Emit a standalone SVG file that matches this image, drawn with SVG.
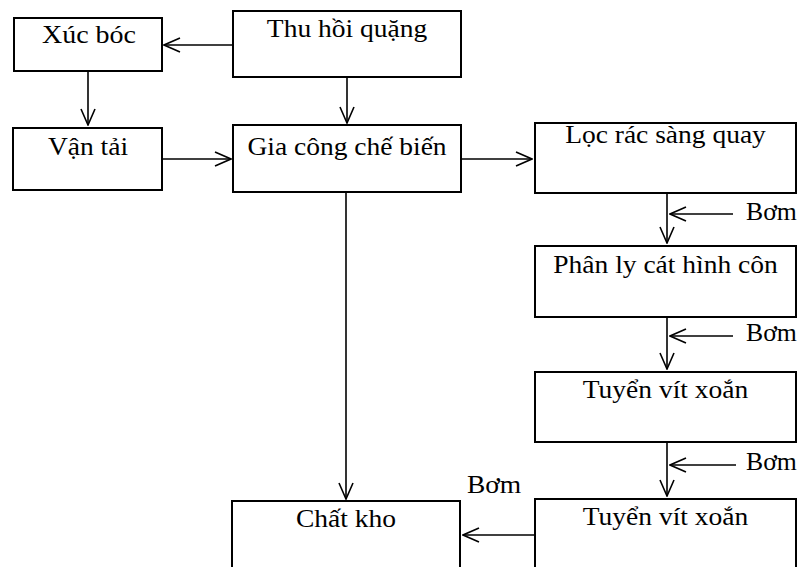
<svg xmlns="http://www.w3.org/2000/svg" width="798" height="567" viewBox="0 0 798 567">
<defs>
<marker id="ah" viewBox="0 0 18 16" refX="17" refY="8" markerWidth="18" markerHeight="16" markerUnits="userSpaceOnUse" orient="auto">
<path d="M1,1 L17,8 L1,15" fill="none" stroke="#000" stroke-width="1.6"/>
</marker>
<style>
.box{fill:#fff;stroke:#000;stroke-width:2}
.t{font-family:"Liberation Serif","Times New Roman",serif;font-size:25px;fill:#000;text-anchor:middle}
.l{font-family:"Liberation Serif","Times New Roman",serif;font-size:25px;fill:#000}
.c{fill:none;stroke:#000;stroke-width:1.6;marker-end:url(#ah)}
</style>
</defs>
<rect width="798" height="567" fill="#fff"/>
<g id="connectors">
<line class="c" x1="233" y1="45" x2="164" y2="45"/>
<line class="c" x1="88" y1="71" x2="88" y2="125"/>
<line class="c" x1="347" y1="77" x2="347" y2="123"/>
<line class="c" x1="163" y1="159" x2="231" y2="159"/>
<line class="c" x1="461" y1="159" x2="532" y2="159"/>
<line class="c" x1="346" y1="192" x2="346" y2="499"/>
<line class="c" x1="667" y1="193" x2="667" y2="243"/>
<line class="c" x1="733" y1="214" x2="670" y2="214"/>
<line class="c" x1="667" y1="317" x2="667" y2="369"/>
<line class="c" x1="733" y1="336" x2="670" y2="336"/>
<line class="c" x1="667" y1="442" x2="667" y2="496"/>
<line class="c" x1="736" y1="465" x2="670" y2="465"/>
<line class="c" x1="535" y1="535" x2="463" y2="535"/>
</g>
<g id="xucboc"><rect class="box" x="14" y="18" width="148" height="53"/><text class="t" transform="matrix(1.12 0 0 1 89 43)">Xúc bóc</text></g>
<g id="thuhoi"><rect class="box" x="233" y="11" width="228" height="66"/><text class="t" transform="matrix(1.1 0 0 1 347 37)">Thu hồi quặng</text></g>
<g id="vantai"><rect class="box" x="13" y="128" width="149" height="62"/><text class="t" transform="matrix(1.1 0 0 1 88 155)">Vận tải</text></g>
<g id="giacong"><rect class="box" x="233" y="125" width="228" height="67"/><text class="t" transform="matrix(1.1 0 0 1 347 155)">Gia công chế biến</text></g>
<g id="locrac"><rect class="box" x="535" y="123" width="261" height="70"/><text class="t" transform="matrix(1.1 0 0 1 665.5 143)">Lọc rác sàng quay</text></g>
<g id="phanly"><rect class="box" x="535" y="246" width="261" height="71"/><text class="t" transform="matrix(1.1 0 0 1 665.5 273)">Phân ly cát hình côn</text></g>
<g id="tuyen1"><rect class="box" x="535" y="372" width="261" height="70"/><text class="t" transform="matrix(1.1 0 0 1 665.5 398)">Tuyển vít xoắn</text></g>
<g id="tuyen2"><rect class="box" x="535" y="499" width="261" height="80"/><text class="t" transform="matrix(1.1 0 0 1 665.5 525)">Tuyển vít xoắn</text></g>
<g id="chatkho"><rect class="box" x="232" y="501" width="228" height="80"/><text class="t" transform="matrix(1.1 0 0 1 346 527)">Chất kho</text></g>
<g id="labels">
<text class="l" transform="matrix(1.03 0 0 1 746 220)">Bơm</text>
<text class="l" transform="matrix(1.03 0 0 1 746 341)">Bơm</text>
<text class="l" transform="matrix(1.03 0 0 1 746 470)">Bơm</text>
<text class="l" transform="matrix(1.1 0 0 1 467 493)">Bơm</text>
</g>
</svg>
